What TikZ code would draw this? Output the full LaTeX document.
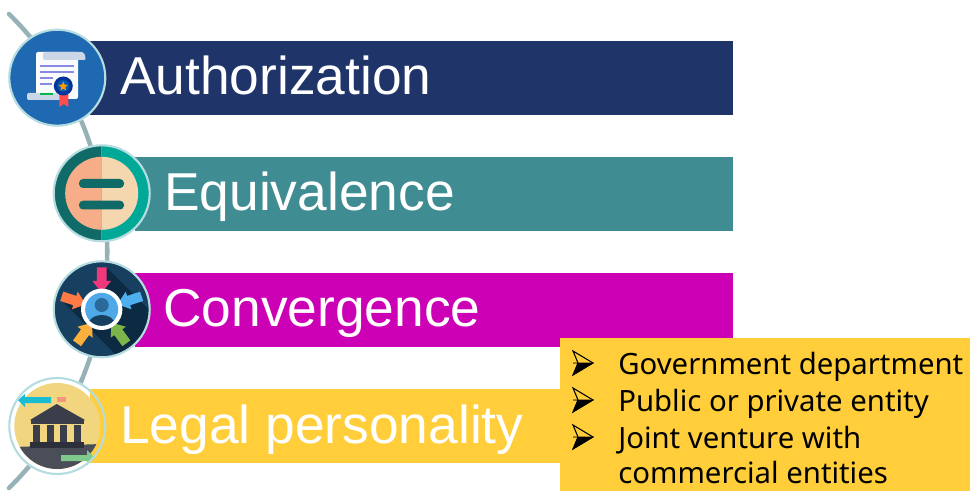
\documentclass[tikz,border=0pt]{standalone}
\usepackage{fontspec}
\setmainfont{Liberation Sans}
\newfontfamily\listfont{Noto Sans}
\definecolor{navybar}{HTML}{1F3469}
\definecolor{tealbar}{HTML}{3F8C92}
\definecolor{magentabar}{HTML}{CC00B5}
\definecolor{yellowbar}{HTML}{FFCE3A}
\definecolor{railgrey}{HTML}{96B2B6}
\definecolor{ringblue}{HTML}{B5DDE0}
\definecolor{paperblue}{HTML}{CBD6E6}
\definecolor{darkgreen}{HTML}{0F6A68}
\definecolor{templegrey}{HTML}{3A3E4A}
\tikzset{
  title/.style={anchor=base west, inner sep=0pt, text=white, font=\fontsize{40}{44}\selectfont},
  item/.style={anchor=base west, inner sep=0pt, text=black, font=\listfont\fontsize{22}{26}\selectfont},
  ring/.style={draw=ringblue, line width=1.6pt},
  rail/.style={draw=railgrey, line width=3.4pt, line cap=round},
  arrowmark/.pic={
    \filldraw[black, line width=0.4pt] (-10,0) -- (10,0) -- (-10,12) -- (-5,0);
    \draw[black, line width=0.8pt, line join=miter] (-10,-12) -- (10,0) -- (-10,12) -- (-5,0) -- cycle;
  }
}
\begin{document}
\begin{tikzpicture}[x=0.75pt, y=-0.75pt]
  \useasboundingbox (0,0) rectangle (970,491);

  % Curved rail behind the circles
  \coordinate (railtop) at (9,14);
  \coordinate (railbot) at (9,488);
  \draw[rail] (railtop) .. controls (140,143) and (140,359) .. (railbot);

  % White ground of the last circle, under the bars
  \fill[white] (57.3,426) circle (49);

  % Bars
  \fill[navybar] (90,41) rectangle (733,115);
  \fill[tealbar] (135,157) rectangle (733,231);
  \fill[magentabar] (135,273) rectangle (733,347);
  \fill[yellowbar] (90,389) rectangle (600,463);
  \node[title] (authorization) at (120,95) {Authorization};
  \node[title] (equivalence) at (164,211) {Equivalence};
  \node[title] (convergence) at (163,327) {Convergence};
  \node[title] (legal) at (120,443) {Legal personality};

  % Yellow list
  \fill[yellowbar] (560,338) rectangle (970,491);
  \foreach \y/\txt in {374/Government department, 411/Public or private entity, 448/Joint venture with, 483/commercial entities} {
    \node[item] at (618,\y) {\txt};
  }
  \foreach \y in {363,400,437} {
    \pic at (583,\y) {arrowmark};
  }

  % Circle 1: certificate
  \fill[fill={rgb,255:red,31;green,105;blue,179}] (57.3,77.7) circle (48);
  \fill[white!90!paperblue, rounded corners=1.5pt] (36,52) rectangle (78,99);
  \fill[paperblue, rounded corners=1.5pt] (43,52) -- (84,52) -- (86,60) -- (43,60) -- cycle;
  \fill[paperblue, rounded corners=1pt] (27,93) rectangle (63,100);
  \foreach \y/\xb in {66/74, 72/74, 78/53, 84/52} {
    \draw[blue!45!white!80!gray, line width=1.2pt] (40,\y) -- (\xb,\y);
  }
  \draw[green!60!black!70!cyan, line width=1.2pt] (40,94.3) -- (53,94.3);
  \fill[red!60!pink] (59.3,94) -- (68.3,94) -- (68.3,107) -- (63.8,104) -- (59.3,107) -- cycle;
  \fill[blue!50!black!80!cyan] (63.3,86) circle (9.5);
  \fill[blue!50!cyan!70!black] (63.3,86) circle (6);
  \fill[orange!80!yellow] (63.3,81.5) -- (64.6,84.6) -- (68,85) -- (65.4,87.2) -- (66.2,90.5) -- (63.3,88.7) -- (60.4,90.5) -- (61.2,87.2) -- (58.6,85) -- (62,84.6) -- cycle;
  \draw[ring] (57.3,77.7) circle (48);

  % Circle 2: equals sign
  \fill[darkgreen] (101.7,145.3) arc (-90:-270:48) -- cycle;
  \fill[fill={rgb,255:red,0;green,168;blue,152}] (101.7,145.3) arc (-90:90:48) -- cycle;
  \fill[fill={rgb,255:red,247;green,174;blue,136}] (101.7,156.8) arc (-90:-270:36.5) -- cycle;
  \fill[fill={rgb,255:red,244;green,215;blue,175}] (101.7,156.8) arc (-90:90:36.5) -- cycle;
  \fill[darkgreen, rounded corners=3pt] (79,179) rectangle (124,188);
  \fill[darkgreen, rounded corners=3pt] (79,200.7) rectangle (124,209.5);
  \draw[ring] (101.7,193.3) circle (48);

  % Circle 3: five arrows on a person
  \fill[fill={rgb,255:red,23;green,63;blue,95}] (101.7,309.3) circle (48);
  \begin{scope}
    \clip (101.7,309.3) circle (48);
    \fill[fill={rgb,255:red,12;green,42;blue,66}] (61,300) -- (120,359) -- (165,326) -- (107,268) -- (100,290) -- (80,300) -- cycle;
  \end{scope}
  \foreach \ang/\col in {0/{rgb,255:red,240;green,56;blue,122}, -72/{rgb,255:red,79;green,176;blue,240}, -144/{rgb,255:red,125;green,181;blue,74}, -216/{rgb,255:red,251;green,176;blue,59}, -288/{rgb,255:red,255;green,122;blue,69}} {
    \fill[fill/.expanded=\col, rotate around={\ang:(101.7,309.3)}] (96.8,267.3) -- (106.6,267.3) -- (106.6,281) -- (111,281) -- (101.7,292.7) -- (92.4,281) -- (96.8,281) -- cycle;
  }
  \fill[white] (101.7,309.3) circle (20.7);
  \fill[fill={rgb,255:red,79;green,168;blue,232}] (101.7,309.3) circle (16.5);
  \begin{scope}
    \clip (101.7,309.3) circle (16.5);
    \fill[fill={rgb,255:red,42;green,106;blue,154}] (101.7,305) circle (7);
    \fill[fill={rgb,255:red,23;green,63;blue,95}] (101.7,324) ellipse (13 and 9);
  \end{scope}
  \draw[ring] (101.7,309.3) circle (48);

  % Circle 4: court building
  \begin{scope}
    \clip (57.3,426) circle (43);
    \fill[fill={rgb,255:red,242;green,214;blue,127}] (14,383) rectangle (101,469);
    \fill[fill={rgb,255:red,74;green,78;blue,89}] (14,447) -- (101,444) -- (101,470) -- (14,470) -- cycle;
  \end{scope}
  \fill[fill={rgb,255:red,245;green,149;blue,124}] (57,397) rectangle (66,402);
  \fill[templegrey] (56.7,404) -- (85,420) -- (30,420) -- cycle;
  \fill[templegrey] (31,420) rectangle (84,424);
  \foreach \x in {33,47,60,74} {
    \fill[templegrey] (\x,425) rectangle ++(7,17);
  }
  \fill[fill={rgb,255:red,45;green,48;blue,58}] (30,442) rectangle (84,448);
  \fill[fill={rgb,255:red,25;green,188;blue,208}] (51,397) -- (25,397) -- (25,394) -- (18,400) -- (25,407) -- (25,403) -- (51,403) -- cycle;
  \fill[fill={rgb,255:red,127;green,201;blue,138}] (61,455) -- (87,455) -- (87,450) -- (95,458) -- (87,465) -- (87,461) -- (61,461) -- cycle;
  \draw[ring] (57.3,426) circle (48);
\end{tikzpicture}
\end{document}
